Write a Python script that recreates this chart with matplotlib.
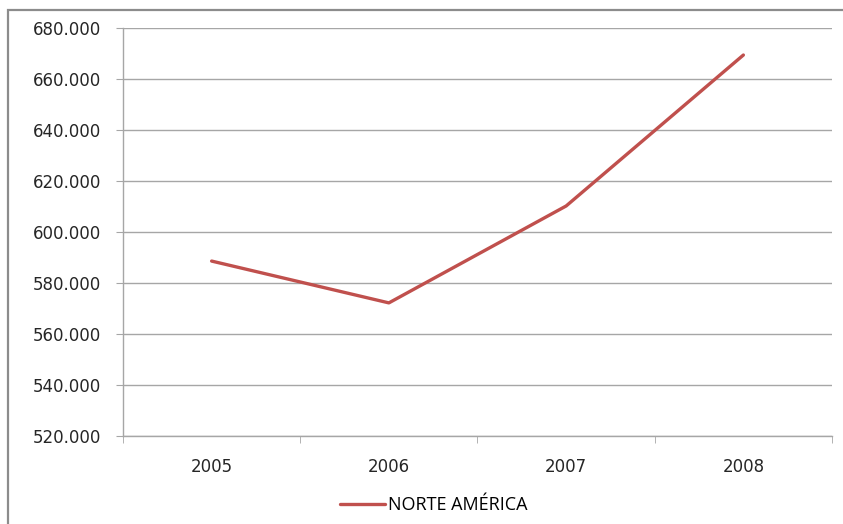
import matplotlib
matplotlib.use("Agg")
import matplotlib.pyplot as plt
from matplotlib.patches import Rectangle
from matplotlib.ticker import FuncFormatter, MultipleLocator, FixedLocator

years = ["2005", "2006", "2007", "2008"]
norte_america = [588600, 572200, 610200, 669400]
series_name = "NORTE AMÉRICA"

line_color = "#C0504D"
grid_color = "#A6A6A6"


def miles(v, pos):
    # 680000 -> 680.000
    return f"{int(round(v)):,}".replace(",", ".")


fig = plt.figure(figsize=(8.43, 5.24), dpi=100)
ax = fig.add_axes([123 / 843, 1 - 436 / 524, (832 - 123) / 843, (436 - 28) / 524])

# outer chart frame (cut off on the right and bottom)
fig.patches.append(Rectangle((8 / 843, -0.1), 1.2, 1 - 10 / 524 + 0.1,
                             transform=fig.transFigure, fill=False,
                             edgecolor="#8C8C8C", linewidth=1.6))

x = list(range(len(years)))
ax.plot(x, norte_america, color=line_color, linewidth=2.4,
        solid_joinstyle="round", solid_capstyle="round", label=series_name)

ax.set_xlim(-0.5, len(years) - 0.5)
ax.set_ylim(520000, 680000)
ax.yaxis.set_major_locator(MultipleLocator(20000))
ax.yaxis.set_major_formatter(FuncFormatter(miles))
ax.yaxis.grid(True, color=grid_color, linewidth=1.0)
ax.set_axisbelow(True)

ax.set_xticks(x)
ax.set_xticklabels(years)
ax.xaxis.set_minor_locator(FixedLocator([i - 0.5 for i in range(len(years) + 1)]))
ax.tick_params(axis="x", which="major", length=0, pad=16, labelsize=12, colors="#262626")
ax.tick_params(axis="x", which="minor", length=5, color=grid_color, direction="out")
ax.tick_params(axis="y", length=5, color=grid_color, pad=11, labelsize=12, labelcolor="#262626")

for s in ["top", "right"]:
    ax.spines[s].set_visible(False)
for s in ["left", "bottom"]:
    ax.spines[s].set_color(grid_color)
    ax.spines[s].set_linewidth(1.0)

fig.legend(loc="center", bbox_to_anchor=(434 / 843, 1 - 505 / 524), frameon=False,
           handlelength=2.5, handletextpad=0.15,
           prop={"family": "Open Sans", "size": 13})

fig.savefig("out.png", dpi=100)
